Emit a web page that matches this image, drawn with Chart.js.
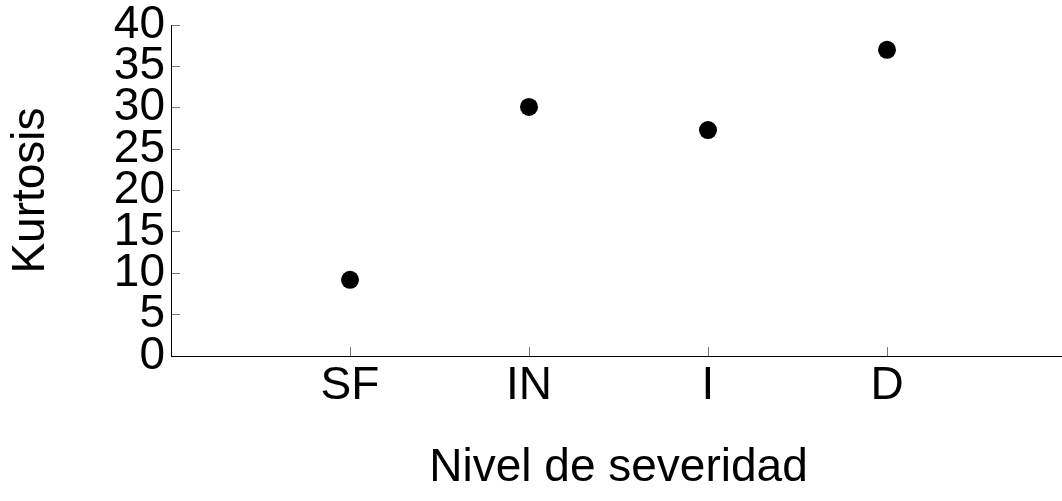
<!DOCTYPE html>
<html>
<head>
<meta charset="utf-8">
<script src="https://cdn.jsdelivr.net/npm/chart.js@4"></script>
<style>
html,body{margin:0;padding:0;background:#fff;overflow:hidden;}
#wrap{position:relative;width:1070px;height:501px;}
</style>
</head>
<body>
<div id="wrap"><canvas id="c"></canvas></div>
<script>
const categories = ['SF', 'IN', 'I', 'D'];
const kurtosis = [9.2, 30.1, 27.3, 37.0];
const yTicks = [0, 5, 10, 15, 20, 25, 30, 35, 40];

const points = categories.map((c, i) => ({x: i + 1, y: kurtosis[i]}));
const FONT = 'Liberation Sans, Arial, sans-serif';

new Chart(document.getElementById('c'), {
  type: 'scatter',
  data: {
    datasets: [{
      data: points,
      backgroundColor: '#000',
      borderColor: '#000',
      pointRadius: 9,
      pointHoverRadius: 9,
      pointBorderWidth: 0
    }]
  },
  options: {
    responsive: true,
    maintainAspectRatio: false,
    animation: false,
    events: [],
    layout: {autoPadding: false, padding: {left: 0, right: 4, top: 0, bottom: 0}},
    plugins: {legend: {display: false}, tooltip: {enabled: false}},
    scales: {
      x: {
        type: 'linear',
        min: 0,
        max: categories.length + 1,
        afterBuildTicks: (s) => { s.ticks = categories.map((c, i) => ({value: i + 1})); },
        afterFit: (s) => { s.height = 145; },
        ticks: {
          autoSkip: false,
          maxRotation: 0,
          padding: 12,
          color: '#000',
          font: {family: FONT, size: 46},
          callback: (v) => categories[v - 1] ?? ''
        },
        grid: {drawOnChartArea: false, drawTicks: true, tickLength: -9, color: '#777', lineWidth: 1},
        border: {display: true, color: '#000', width: 1},
        title: {
          display: true,
          text: 'Nivel de severidad',
          color: '#000',
          font: {family: FONT, size: 46},
          padding: {top: 0, bottom: 5}
        }
      },
      y: {
        min: 0,
        max: 40,
        afterBuildTicks: (s) => { s.ticks = yTicks.map(v => ({value: v})); },
        afterFit: (s) => { s.width = 171; },
        ticks: {
          padding: 15,
          color: '#000',
          font: {family: FONT, size: 46, lineHeight: 0.435},
          autoSkip: false
        },
        grid: {drawOnChartArea: false, drawTicks: true, tickLength: -9, color: '#777', lineWidth: 1},
        border: {display: true, color: '#000', width: 1},
        title: {
          display: true,
          text: 'Kurtosis',
          color: '#000',
          font: {family: FONT, size: 46},
          padding: {top: 4, bottom: 0}
        }
      }
    }
  }
});
</script>
</body>
</html>
